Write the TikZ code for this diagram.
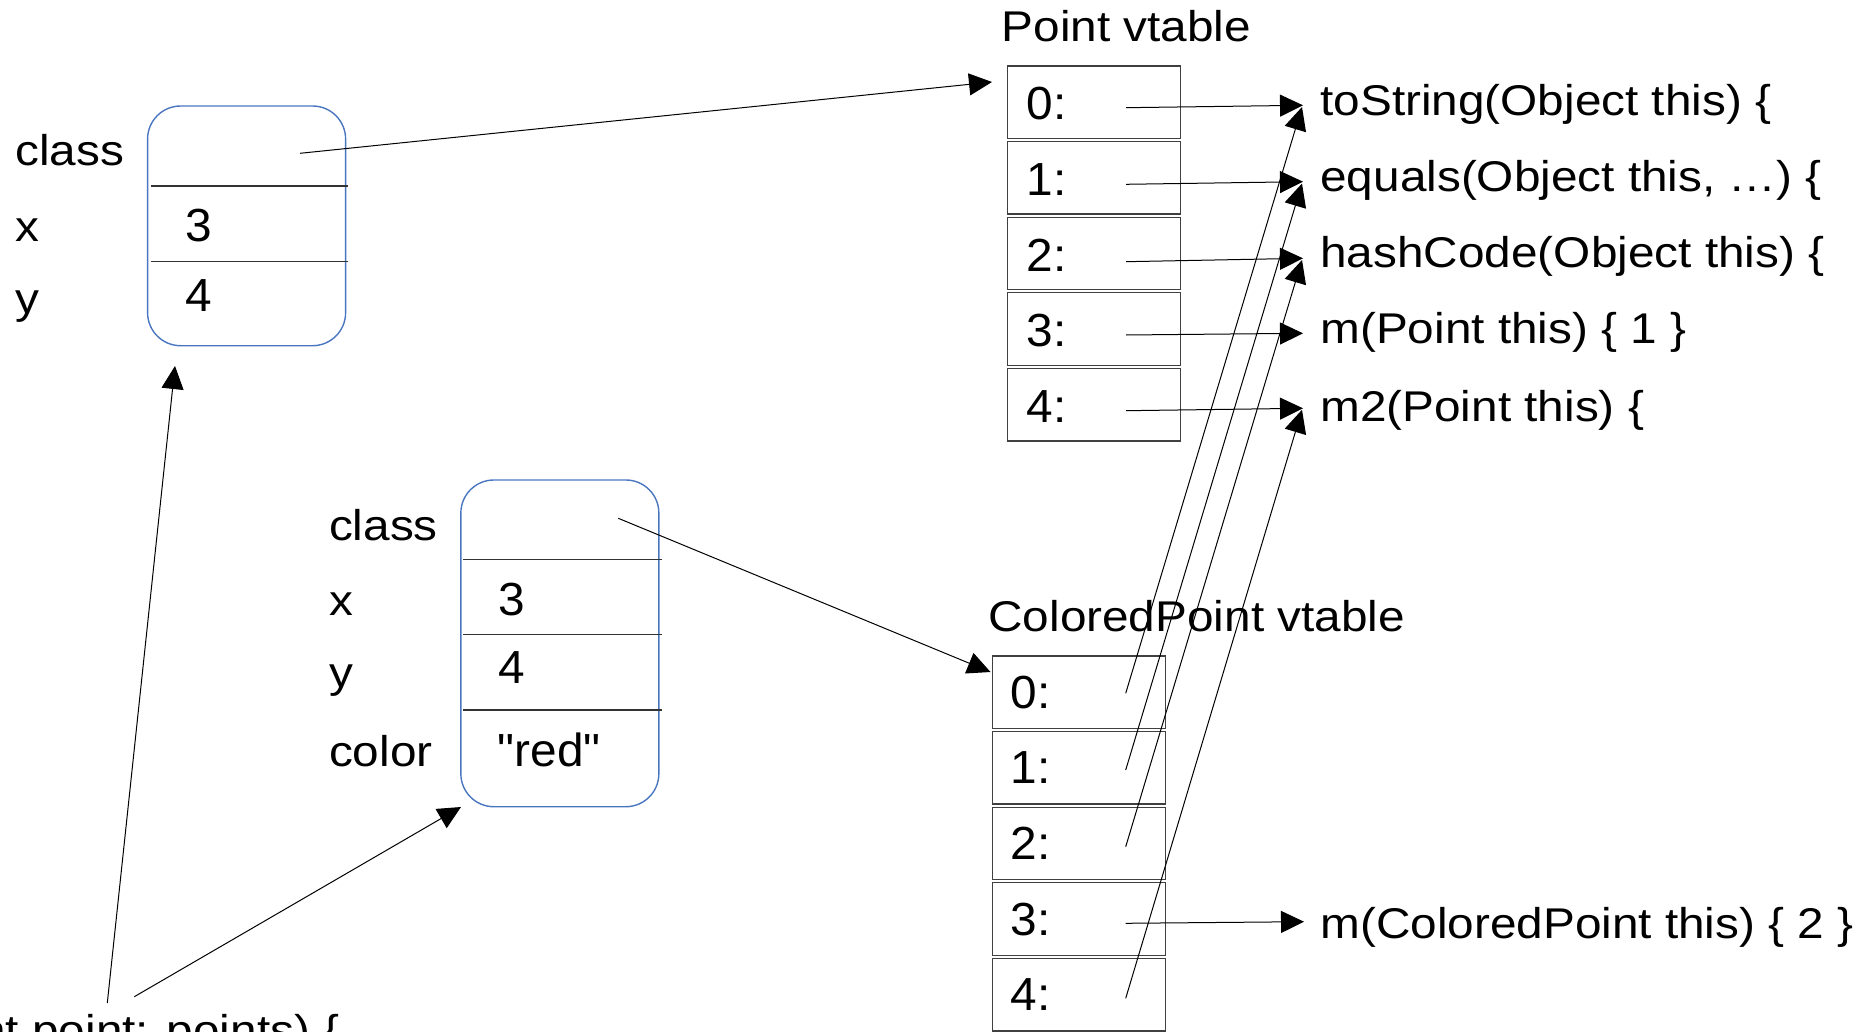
\documentclass[tikz,border=0pt]{standalone}
\usepackage{fontspec}
\setmainfont{Liberation Sans}
\newfontfamily\lblfont{Liberation Sans}[FakeStretch=1.11]
\newfontfamily\numfont{Liberation Sans}[FakeStretch=1.03]
\usetikzlibrary{arrows.meta}

\definecolor{objblue}{HTML}{4A76C0}

\begin{document}
\begin{tikzpicture}[x=0.5pt,y=-0.5pt,
  lbl/.style={anchor=base west, inner sep=0pt, font={\lblfont\fontsize{21.5}{25}\selectfont}},
  val/.style={anchor=base west, inner sep=0pt, font={\numfont\fontsize{23.2}{27}\selectfont}},
  obj/.style={draw=objblue, line width=0.7pt, rounded corners=16.5pt, minimum width=99pt, inner sep=0pt},
  slot/.style={draw=black!75, line width=0.65pt, minimum width=86.5pt, minimum height=36.25pt, inner sep=0pt},
  sepline/.style={draw=black!80, line width=0.6pt},
  ptr/.style={draw=black, line width=0.5pt, -{Triangle[length=11.5pt,width=11pt]}},
]
\useasboundingbox (0,0) rectangle (1867,1032);
\clip (0,0) rectangle (1867,1032);

% ---- Point object ----
\node[obj, minimum height=119.85pt] (pobj) at (246.6,225.85) {};
\draw[sepline] (150.7,186) -- (348,186);
\draw[sepline] (150.7,261.3) -- (348,261.3);
\node[lbl] (pcls) at (15,166) {class};
\node[lbl] (px) at (15,241.7) {x};
\node[lbl] (py) at (15,313) {y};
\node[val] (pxv) at (184.7,241.7) {3};
\node[val] (pyv) at (184.7,311.7) {4};
\coordinate (pclsptr) at (300,153.3);

% ---- ColoredPoint object ----
\node[obj, minimum height=163.35pt] (cobj) at (559.85,643.35) {};
\draw[sepline] (463.3,559.3) -- (661.7,559.3);
\draw[sepline] (463.3,634.7) -- (661.7,634.7);
\draw[sepline] (463.3,710) -- (661.7,710);
\node[lbl] (ccls) at (328.7,540) {class};
\node[lbl] (cx) at (328.7,615.3) {x};
\node[lbl] (cy) at (328.7,687) {y};
\node[lbl] (ccol) at (328.7,766) {color};
\node[val] (cxv) at (498,615.3) {3};
\node[val] (cyv) at (498,683.3) {4};
\node[val] (ccolv) at (497.5,766) {"red"};
\coordinate (cclsptr) at (618.3,518.3);

% ---- Point vtable ----
\node[lbl] (ptitle) at (1001.3,41.7) {Point vtable};
\foreach \i in {0,...,4} {
  \node[slot] (pv\i) at (1094,102.25+75.6*\i) {};
  \node[val] (pvl\i) at (1026.3,120+75.6*\i) {\i:};
}
\coordinate (pvin) at (992,82);

% ---- ColoredPoint vtable ----
\node[lbl] (ctitle) at (988,631.7) {ColoredPoint vtable};
\foreach \i in {0,...,4} {
  \node[slot, minimum width=86.7pt] (cv\i) at (1079,692.25+75.6*\i) {};
  \node[val] (cvl\i) at (1010.3,708.3+75.6*\i) {\i:};
}
\coordinate (cvin) at (990.5,672);

% ---- method bodies ----
\node[lbl] (m0) at (1320,116) {toString(Object this) \{};
\node[lbl] (m1) at (1320,191.7) {equals(Object this, …) \{};
\node[lbl] (m2) at (1320,268) {hashCode(Object this) \{};
\node[lbl] (m3) at (1320,343) {m(Point this) \{ 1 \}};
\node[lbl] (m4) at (1320,421.7) {m2(Point this) \{};
\node[lbl] (m5) at (1320,938) {m(ColoredPoint this) \{ 2 \}};

% entry points of the method bodies
\coordinate (t0) at (1303,105.3);
\coordinate (t1) at (1303,181.7);
\coordinate (t2) at (1303,258.3);
\coordinate (t3) at (1303,333.3);
\coordinate (t4) at (1303,408.3);
\coordinate (t5) at (1304,921.7);
\coordinate (u0) at (1302,107);
\coordinate (u1) at (1302,183.5);
\coordinate (u2) at (1302,260);
\coordinate (u4) at (1302,409.8);

% slot pointers of the Point vtable
\coordinate (ps0) at (1126,107.7);
\coordinate (ps1) at (1126,184.3);
\coordinate (ps2) at (1126,261.7);
\coordinate (ps3) at (1126,335);
\coordinate (ps4) at (1126,410.7);
% slot pointers of the ColoredPoint vtable
\coordinate (cs0) at (1125.7,693.3);
\coordinate (cs1) at (1125.7,770);
\coordinate (cs2) at (1125.7,846.7);
\coordinate (cs3) at (1125.7,923.3);
\coordinate (cs4) at (1125.7,998.3);

\foreach \i in {0,...,4} { \draw[ptr] (ps\i) -- (t\i); }
\draw[ptr] (cs0) -- (u0);
\draw[ptr] (cs1) -- (u1);
\draw[ptr] (cs2) -- (u2);
\draw[ptr] (cs3) -- (t5);
\draw[ptr] (cs4) -- (u4);

% class pointers
\draw[ptr] (pclsptr) -- (pvin);
\draw[ptr] (cclsptr) -- (cvin);

% ---- loop over the points ----
\node[lbl] (loop) at (-174.8,1045.5) {for (Point point: points) \{};
\coordinate (l1) at (107.3,1003);
\coordinate (l2) at (134.3,996.7);
\coordinate (pobjin) at (175,366);
\coordinate (cobjin) at (461,807);
\draw[ptr] (l1) -- (pobjin);
\draw[ptr] (l2) -- (cobjin);
\end{tikzpicture}
\end{document}
